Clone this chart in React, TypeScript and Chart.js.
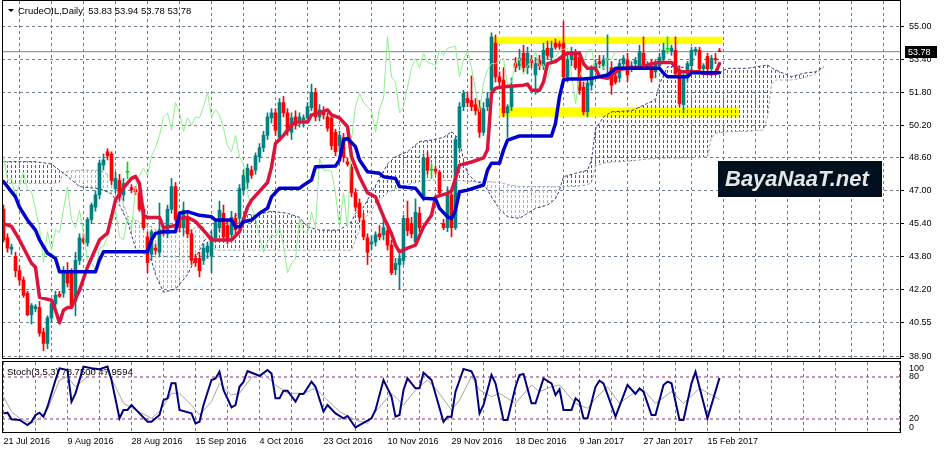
import React, { useEffect, useRef } from 'react';
import { Chart, registerables } from 'chart.js';
Chart.register(...registerables);

const FONT = '"Liberation Sans", Arial, sans-serif';

// ---------- data ----------
const dateLabels = ['21 Jul 2016', '9 Aug 2016', '28 Aug 2016', '15 Sep 2016', '4 Oct 2016', '23 Oct 2016', '10 Nov 2016', '29 Nov 2016', '18 Dec 2016', '9 Jan 2017', '27 Jan 2017', '15 Feb 2017'];
const priceTicks = [38.9, 40.55, 42.2, 43.8, 45.4, 47.0, 48.6, 50.2, 51.8, 53.4, 55.0];
const lastPrice = 53.78;
const titleText = 'CrudeOIL,Daily  53.83 53.94 53.78 53.78';
const stochText = 'Stoch(3,5,3) 78.7500 47.9594';
const watermarkText = 'BayaNaaT.net';
const chikouShift = 26;

// open, high, low, close
const candles: number[][] = [
  [46.1, 46.3, 44.5, 44.6], [44.7, 44.9, 44.0, 44.2], [44.15, 44.4, 43.9, 44.25], [43.8, 44.0, 42.8, 43.1],
  [43.1, 43.35, 42.4, 42.65], [42.65, 42.8, 41.8, 41.9], [42.0, 42.1, 40.9, 40.95], [40.95, 41.5, 40.5, 41.4],
  [41.25, 41.45, 41.1, 41.35], [41.3, 41.6, 39.9, 40.05], [40.1, 40.3, 39.2, 39.55], [39.55, 40.9, 39.3, 40.8],
  [40.8, 41.6, 40.6, 41.5], [41.5, 42.1, 41.3, 41.9], [41.95, 42.1, 41.8, 41.85], [42.0, 43.3, 41.8, 43.1],
  [43.0, 43.5, 42.3, 42.5], [43.0, 43.2, 41.3, 41.4], [41.6, 44.0, 40.9, 43.6], [43.6, 44.9, 43.4, 44.7],
  [44.65, 44.9, 44.4, 44.5], [44.45, 45.7, 44.3, 45.6], [45.6, 46.4, 45.4, 46.3], [46.2, 47.0, 46.0, 46.8],
  [46.8, 48.5, 46.6, 48.35], [48.25, 48.8, 48.0, 48.5], [48.9, 49.05, 48.5, 48.7], [48.8, 48.9, 47.3, 47.5],
  [47.1, 47.9, 46.9, 47.6], [47.5, 47.8, 46.5, 46.7], [46.8, 47.6, 46.5, 47.35], [47.9, 48.4, 47.6, 47.9],
  [47.15, 47.3, 46.9, 47.05], [47.05, 47.2, 46.8, 46.95], [46.9, 47.1, 46.0, 46.1], [46.1, 46.3, 45.1, 45.2],
  [44.75, 45.0, 43.0, 43.5], [43.9, 45.1, 43.6, 45.0], [44.2, 44.4, 43.9, 44.1], [44.0, 46.4, 43.8, 45.1],
  [45.1, 45.3, 44.8, 44.95], [44.9, 46.3, 44.7, 46.1], [46.1, 47.6, 45.9, 47.2], [47.2, 47.4, 45.5, 45.6],
  [45.7, 46.0, 45.0, 45.2], [45.2, 46.45, 44.8, 46.05], [45.7, 46.0, 44.7, 44.9], [44.9, 45.1, 43.4, 43.6],
  [43.7, 43.9, 43.3, 43.5], [43.7, 44.0, 42.8, 43.1], [43.6, 44.4, 43.4, 44.2], [44.0, 44.5, 43.7, 44.3],
  [43.8, 45.0, 43.0, 44.75], [44.7, 45.6, 44.5, 45.45], [45.2, 46.5, 45.0, 46.05], [45.9, 46.3, 44.6, 44.75],
  [45.3, 45.5, 44.4, 44.6], [44.85, 46.0, 44.6, 45.7], [45.65, 45.9, 44.9, 45.1], [45.65, 47.3, 45.4, 47.1],
  [47.05, 48.0, 46.8, 47.75], [47.4, 48.3, 47.1, 48.1], [48.0, 48.2, 47.6, 47.75], [48.0, 48.85, 47.8, 48.7],
  [48.65, 49.3, 48.4, 49.1], [49.1, 49.9, 48.9, 49.7], [49.7, 50.8, 49.5, 50.6], [50.55, 51.0, 50.3, 50.8],
  [50.8, 51.0, 49.7, 49.95], [49.6, 51.5, 49.4, 51.3], [51.3, 51.6, 50.6, 50.8], [50.8, 51.0, 49.7, 49.9],
  [49.85, 50.8, 49.5, 50.55], [50.6, 50.9, 50.0, 50.2], [50.35, 50.8, 50.1, 50.6], [50.45, 50.7, 50.1, 50.55],
  [50.55, 51.3, 50.4, 51.1], [51.05, 52.2, 50.9, 51.8], [51.8, 52.0, 50.4, 50.6], [50.6, 51.2, 50.4, 50.95],
  [50.9, 51.1, 50.5, 50.7], [50.6, 50.8, 49.9, 50.05], [50.55, 50.7, 49.0, 49.2], [49.85, 50.0, 48.7, 48.9],
  [49.2, 49.9, 48.9, 49.7], [49.6, 49.8, 48.4, 48.65], [48.4, 48.6, 48.2, 48.3], [48.15, 48.3, 46.7, 46.9],
  [46.9, 47.1, 46.0, 46.2], [46.4, 46.6, 45.5, 45.7], [45.55, 45.9, 44.6, 44.75], [44.7, 44.9, 43.4, 44.0],
  [44.4, 44.8, 44.1, 44.5], [44.5, 45.0, 44.3, 44.85], [44.9, 45.3, 44.6, 44.75], [44.85, 45.8, 44.6, 45.2],
  [45.05, 45.3, 44.1, 44.35], [44.35, 44.6, 42.9, 43.0], [43.15, 43.7, 42.9, 43.45], [43.4, 43.9, 42.2, 43.7],
  [43.6, 45.8, 43.4, 45.65], [45.65, 46.5, 44.8, 45.05], [45.4, 45.7, 44.7, 44.9], [44.5, 46.6, 44.3, 45.95],
  [45.9, 46.2, 45.0, 45.2], [46.7, 48.8, 46.5, 48.6], [48.6, 48.9, 47.8, 48.0], [48.0, 48.3, 47.6, 48.0],
  [48.05, 48.2, 47.8, 47.95], [47.9, 48.0, 46.7, 46.9], [45.4, 45.6, 45.1, 45.2], [45.2, 47.2, 45.0, 46.9],
  [46.8, 47.0, 44.75, 45.2], [45.2, 49.6, 45.1, 49.5], [49.1, 51.3, 48.9, 51.1], [51.1, 51.9, 50.9, 51.75],
  [51.5, 51.8, 51.1, 51.3], [51.4, 52.6, 50.9, 51.1], [51.2, 51.5, 50.7, 50.9], [51.1, 51.4, 49.6, 49.85],
  [49.85, 51.3, 49.7, 51.0], [51.1, 51.8, 50.9, 51.5], [51.9, 54.7, 51.6, 54.5], [54.2, 54.6, 52.3, 52.55],
  [52.55, 52.8, 52.1, 52.3], [52.4, 53.0, 50.6, 50.8], [50.8, 51.2, 49.6, 51.1], [51.1, 52.5, 50.9, 52.05],
  [53.2, 53.5, 52.8, 53.0], [53.1, 53.9, 52.9, 53.45], [53.7, 54.1, 52.8, 53.0], [53.0, 54.0, 52.7, 53.7],
  [53.35, 53.6, 53.0, 53.25], [52.65, 53.5, 51.7, 53.2], [53.35, 53.6, 52.9, 53.1], [53.1, 54.2, 52.9, 53.85],
  [53.95, 54.3, 53.4, 53.6], [53.5, 54.3, 53.2, 53.95], [54.2, 54.4, 53.9, 54.0], [54.15, 54.3, 53.9, 54.05],
  [54.2, 55.25, 52.4, 52.55], [52.55, 53.6, 52.3, 53.4], [53.4, 54.0, 53.1, 53.8], [53.7, 53.9, 52.9, 53.0],
  [53.5, 53.8, 51.7, 51.9], [52.05, 52.3, 50.7, 50.85], [50.85, 52.4, 50.6, 52.25], [52.15, 53.1, 51.9, 52.9],
  [53.0, 53.4, 52.8, 53.2], [53.3, 53.6, 53.0, 53.2], [53.1, 53.6, 52.9, 53.35], [53.4, 54.6, 52.6, 53.45],
  [53.0, 53.3, 51.7, 52.15], [52.6, 52.8, 52.2, 52.3], [52.5, 53.4, 52.3, 53.2], [53.2, 53.6, 53.0, 53.45],
  [53.35, 53.7, 52.3, 52.65], [53.0, 53.3, 52.8, 53.1], [53.2, 53.5, 53.0, 53.35], [53.1, 54.1, 52.9, 53.77],
  [53.7, 54.5, 52.9, 53.1], [53.05, 53.3, 52.9, 53.15], [53.1, 53.4, 52.3, 52.5], [52.8, 53.4, 52.5, 53.2],
  [53.1, 53.7, 52.9, 53.5], [53.45, 54.2, 53.3, 53.85], [53.9, 54.5, 53.7, 53.9], [53.8, 54.1, 53.6, 53.95],
  [53.85, 54.5, 52.5, 52.7], [52.9, 53.1, 51.1, 51.25], [51.2, 52.7, 50.8, 52.55], [52.55, 53.3, 52.3, 53.2],
  [53.1, 54.0, 52.9, 53.85], [53.8, 54.0, 53.6, 53.9], [53.85, 54.0, 52.7, 52.95], [52.95, 53.2, 52.8, 53.1],
  [53.55, 53.7, 52.7, 52.95], [52.95, 53.6, 52.8, 53.45], [53.45, 53.7, 53.2, 53.4], [53.83, 53.94, 53.78, 53.78],
];

// [bar index, value]
const tenkan: number[][] = [
  [0, 45.4], [2, 45.26], [4, 44.6], [7, 43.46], [8, 43.27], [9, 41.8], [12, 41.66], [13, 41.17], [14, 40.56],
  [15, 41.17], [16, 41.3], [17, 41.3], [19, 42.15], [21, 43.28], [24, 44.6], [26, 44.93], [28, 46.54], [30, 47.14],
  [32, 47.6], [33, 47.7], [34, 47.35], [35, 45.8], [36, 45.7], [39, 45.7], [40, 45.2], [43, 45.3], [44, 45.65],
  [46, 45.7], [48, 45.5], [51, 44.85], [52, 44.6], [57, 44.6], [59, 45.0], [61, 46.2], [62, 46.54], [66, 47.4],
  [67, 48.15], [68, 49.3], [70, 49.7], [72, 50.2], [73, 50.35], [76, 50.35], [77, 50.7], [79, 50.8], [81, 50.94],
  [82, 50.7], [84, 50.55], [86, 50.12], [87, 48.66], [89, 47.68], [91, 46.9], [93, 46.7], [95, 45.73], [97, 44.9],
  [98, 44.35], [99, 44.02], [101, 44.2], [103, 44.35], [105, 45.24], [107, 45.8], [108, 46.7], [111, 46.87],
  [112, 47.0], [113, 47.6], [114, 48.25], [117, 48.4], [120, 48.6], [121, 49.0], [122, 51.75], [123, 52.0],
  [125, 52.07], [130, 52.15], [131, 52.2], [132, 51.9], [134, 51.9], [135, 52.3], [136, 53.2], [138, 53.3],
  [140, 53.6], [141, 53.7], [144, 53.7], [145, 53.2], [146, 52.97], [148, 52.97], [149, 52.56], [151, 52.48],
  [152, 52.64], [154, 52.92], [160, 53.05], [162, 53.2], [164, 53.26], [167, 53.26], [169, 52.8], [174, 52.8],
  [175, 52.73], [178, 52.73], [179, 53.2],
];

const kijun: number[][] = [
  [0, 47.44], [1, 47.2], [3, 46.7], [4, 46.2], [6, 45.57], [8, 45.08], [9, 44.6], [11, 43.95], [13, 43.7],
  [14, 43.05], [23, 43.05], [24, 43.62], [25, 44.02], [36, 44.02], [37, 44.6], [38, 44.92], [40, 45.0], [43, 45.0],
  [44, 45.9], [46, 45.98], [49, 45.8], [52, 45.73], [53, 45.57], [57, 45.57], [58, 45.24], [59, 45.24], [60, 45.49],
  [62, 45.57], [64, 45.9], [66, 46.14], [67, 46.7], [69, 47.12], [74, 47.12], [75, 47.27], [77, 47.52], [78, 48.17],
  [83, 48.2], [84, 48.5], [85, 49.47], [86, 49.55], [88, 49.15], [89, 48.5], [91, 47.93], [94, 47.85], [95, 47.68],
  [98, 47.6], [99, 47.2], [103, 47.12], [105, 46.63], [108, 46.6], [109, 46.14], [111, 45.73], [112, 45.65],
  [113, 46.06], [114, 46.95], [116, 47.03], [120, 47.28], [121, 48.0], [122, 48.34], [124, 48.34], [125, 48.98],
  [126, 49.47], [129, 49.67], [137, 49.67], [138, 50.29], [139, 51.59], [140, 52.4], [141, 52.45], [145, 52.45],
  [147, 52.48], [151, 52.64], [152, 52.8], [153, 52.97], [164, 52.97], [165, 52.73], [166, 52.56], [171, 52.56],
  [172, 52.76], [179, 52.76],
];

const cloudIdx = [0, 8, 12, 14, 15, 16, 19, 24, 27, 29, 31, 33, 35, 37, 38, 40, 43, 46, 48, 50, 52, 53, 59, 63, 67, 71, 74, 76, 79, 84, 87, 88, 90, 92, 94, 96, 98, 101, 104, 107, 110, 112, 114, 115, 116, 118, 120, 122, 124, 126, 129, 131, 133, 136, 138, 139, 140, 143, 146, 147, 148, 150, 152, 157, 161, 163, 164, 166, 169, 173, 176, 177, 178, 181, 186, 190, 191, 192, 193, 197, 200, 203, 205];
const senkouA = [48.42, 48.42, 48.3, 48.0, 47.85, 47.7, 47.2, 47.1, 46.85, 46.3, 45.5, 44.2, 43.95, 43.6, 42.9, 42.05, 42.2, 42.9, 43.7, 44.5, 45.05, 45.1, 45.9, 45.8, 46.0, 45.9, 45.7, 45.24, 45.08, 45.08, 45.49, 45.9, 46.2, 46.9, 47.6, 48.3, 48.66, 48.9, 49.4, 49.47, 49.6, 49.88, 49.5, 48.5, 47.85, 47.44, 47.36, 46.7, 46.1, 45.73, 45.65, 45.9, 46.14, 46.3, 46.6, 47.03, 47.68, 47.85, 48.0, 48.5, 50.0, 50.6, 50.85, 50.9, 51.26, 51.45, 52.2, 53.05, 53.05, 52.85, 52.64, 52.64, 52.64, 52.97, 52.97, 53.1, 53.13, 53.0, 52.89, 52.56, 52.73, 52.8, 53.05];
const senkouB = [47.36, 47.36, 47.36, 47.4, 47.93, 47.95, 48.0, 48.0, 47.68, 46.95, 45.75, 45.6, 45.3, 45.25, 45.1, 45.0, 45.0, 45.0, 45.2, 45.25, 44.5, 44.1, 44.1, 44.1, 44.1, 44.1, 44.1, 44.1, 44.1, 44.1, 44.1, 44.6, 45.57, 46.06, 46.54, 46.9, 47.1, 47.3, 47.44, 47.52, 47.5, 47.5, 47.5, 47.48, 47.45, 47.44, 47.44, 47.44, 47.4, 47.3, 47.2, 47.2, 47.2, 47.2, 47.2, 47.2, 47.2, 47.2, 47.3, 47.4, 48.2, 48.34, 48.4, 48.45, 48.55, 48.58, 48.58, 48.6, 48.6, 48.62, 48.66, 49.6, 49.8, 49.88, 49.9, 49.96, 50.6, 52.2, 52.4, 52.4, 52.5, 52.7, 53.0];

const stochMain: number[][] = [
  [0, 28], [1, 29], [2, 19.5], [4, 18.6], [6, 11.4], [7, 16], [8, 25.7], [9, 29], [10, 23.3], [11, 37.6], [13, 75.7],
  [14, 92.4], [16, 90], [17, 44.7], [18, 56.7], [20, 94.8], [22, 92.4], [24, 91], [26, 94.8], [27, 75.7], [29, 21],
  [30, 32.9], [31, 32.9], [32, 40], [34, 28], [36, 16], [37, 16], [39, 25.7], [40, 47], [41, 49.5], [42, 71], [43, 71],
  [44, 32.9], [47, 28], [48, 13.8], [49, 16], [50, 40], [52, 75.7], [53, 78], [54, 87.6], [55, 61.4], [57, 36.7],
  [58, 40], [59, 66], [60, 73], [61, 88.6], [63, 84], [64, 81.4], [66, 90], [67, 85], [68, 49.5], [69, 49.5],
  [70, 60.5], [71, 60.5], [73, 44.7], [74, 55.7], [75, 55.7], [77, 73.3], [78, 66], [80, 30.5], [81, 40], [83, 28],
  [85, 21], [86, 24.3], [88, 8.1], [89, 11.4], [92, 21], [93, 32.9], [95, 75.7], [97, 51.9], [98, 23.3], [99, 25.7],
  [100, 61.4], [101, 78], [103, 63.8], [104, 63.8], [105, 86.2], [107, 75.7], [110, 16], [111, 23.3], [112, 23.3],
  [113, 59], [115, 91.4], [117, 88], [118, 75.7], [119, 28], [120, 40], [122, 82.9], [123, 71], [125, 18.6],
  [126, 18.6], [128, 66], [129, 82.9], [130, 84.3], [132, 42.4], [133, 42.4], [135, 78], [137, 71], [138, 54.3],
  [139, 62.4], [140, 32.9], [142, 32.9], [143, 49.5], [144, 44.7], [145, 21], [146, 21], [148, 66], [149, 74.7],
  [150, 71], [153, 23.3], [156, 68.6], [158, 55.7], [159, 63.8], [160, 59], [162, 25.7], [163, 25.7], [165, 68.6],
  [166, 73.3], [167, 71], [169, 18.6], [170, 18.6], [172, 71], [173, 87.6], [176, 21], [179, 78.75],
];
const stochSignal: number[][] = [
  [0, 51.9], [2, 30.5], [4, 21], [7, 13.8], [9, 21], [11, 33], [14, 75.7], [16, 80.4], [18, 66], [21, 80.4],
  [23, 91], [26, 87.6], [28, 66], [30, 42.4], [33, 33], [37, 21], [39, 30.5], [42, 56.7], [44, 56.7], [47, 40],
  [49, 25.7], [52, 44.7], [54, 71], [57, 54.3], [59, 56.7], [62, 79.5], [65, 85.3], [68, 68.6], [71, 56.7],
  [75, 56.7], [78, 63.8], [81, 47], [84, 30.5], [88, 18.6], [91, 13.8], [93, 30.5], [97, 56.7], [100, 40],
  [103, 61.4], [106, 75.7], [108, 63.8], [112, 32.9], [114, 47], [117, 80.4], [119, 61.4], [122, 51.9], [124, 56.7],
  [128, 42.4], [132, 68.6], [134, 59], [137, 66], [139, 68.6], [143, 42.4], [146, 35.2], [148, 49.5], [151, 66],
  [154, 42.4], [158, 59], [160, 61.4], [163, 42.4], [167, 59], [170, 42.4], [174, 63.8], [177, 54.3], [179, 47.96],
];
const stochLevels = [20, 80];

// highlighted zones (yellow): start bar, end bar, low, high
const zoneStart = [122.2, 123.9];
const zoneEnd = [179.8, 183.9];
const zoneLow = [54.16, 50.61];
const zoneHigh = [54.51, 51.07];

// ---------- styling ----------
const TEAL = '#008080';
const RED = '#ff0000';
const LIME = '#00e000';
const GRID = '#6f7d8c';
const X_MIN = -0.375;
const X_MAX = 224.125;
const Y_MAX = 56.2535;
const Y_MIN = 38.8415;
const xTickValues: number[] = [];
for (let v = 0; v <= 224; v += 8) xTickValues.push(v);

function makePattern(color: string) {
  const c = document.createElement('canvas');
  c.width = 4;
  c.height = 5;
  const g = c.getContext('2d')!;
  g.fillStyle = color;
  g.fillRect(3, 0, 1, 3);
  return g.createPattern(c, 'repeat') as CanvasPattern;
}

const pts = (arr: number[][]) => arr.map((p) => ({ x: p[0], y: p[1] }));
const noPad = (ax: any) => {
  ax.paddingTop = 0;
  ax.paddingBottom = 0;
  ax.paddingLeft = 0;
  ax.paddingRight = 0;
};

export default function App() {
  const mainRef = useRef<HTMLCanvasElement>(null);
  const stochRef = useRef<HTMLCanvasElement>(null);

  useEffect(() => {
    document.body.style.margin = '0';
    document.body.style.background = '#ffffff';
    const navyPat = makePattern('#5a5a98');
    const grayPat = makePattern('#b4b4b4');
    const colorOf = (c: number[]) => (c[3] > c[0] ? TEAL : c[3] < c[0] ? RED : LIME);

    const datasets: any[] = [];
    zoneStart.forEach((s, k) => {
      datasets.push({
        type: 'line', data: [{ x: s, y: zoneLow[k] }, { x: zoneEnd[k], y: zoneLow[k] }],
        borderWidth: 0, pointRadius: 0, fill: false, order: 101,
      });
      datasets.push({
        type: 'line', data: [{ x: s, y: zoneHigh[k] }, { x: zoneEnd[k], y: zoneHigh[k] }],
        borderWidth: 0, pointRadius: 0, fill: '-1', backgroundColor: '#ffff00', order: 100,
      });
    });
    datasets.push({
      type: 'line', data: [{ x: X_MIN, y: lastPrice }, { x: X_MAX, y: lastPrice }],
      borderColor: '#77838f', borderWidth: 1, pointRadius: 0, fill: false, order: 95,
    });
    const bIndex = datasets.length;
    datasets.push({
      type: 'line', data: cloudIdx.map((x, k) => ({ x, y: senkouB[k] })),
      borderColor: '#a8a8a8', borderWidth: 1, borderDash: [3, 2], pointRadius: 0, fill: false, order: 91,
    });
    datasets.push({
      type: 'line', data: cloudIdx.map((x, k) => ({ x, y: senkouA[k] })),
      borderColor: '#3a3a80', borderWidth: 1, borderDash: [3, 2], pointRadius: 0,
      fill: { target: bIndex, above: navyPat, below: grayPat }, order: 90,
    });
    datasets.push({
      type: 'bar', data: candles.map((c, i) => ({ x: i, y: [c[2], c[1]] })),
      backgroundColor: candles.map(colorOf), barThickness: 1, grouped: false, minBarLength: 1,
      borderWidth: 0, order: 50,
    });
    datasets.push({
      type: 'bar', data: candles.map((c, i) => ({ x: i, y: [c[0], c[3]] })),
      backgroundColor: candles.map(colorOf), barThickness: 3, grouped: false, minBarLength: 1,
      borderWidth: 0, order: 49,
    });
    datasets.push({
      type: 'line', data: candles.map((c, i) => ({ x: i - chikouShift, y: c[3] })),
      borderColor: '#90ee90', borderWidth: 1, pointRadius: 0, fill: false, order: 40,
    });
    datasets.push({
      type: 'line', data: pts(tenkan), borderColor: '#dc143c', borderWidth: 3.5, pointRadius: 0,
      fill: false, order: 30, borderJoinStyle: 'round', borderCapStyle: 'round',
    });
    datasets.push({
      type: 'line', data: pts(kijun), borderColor: '#0000cd', borderWidth: 3.5, pointRadius: 0,
      fill: false, order: 20, borderJoinStyle: 'round', borderCapStyle: 'round',
    });

    const mainDecor = {
      id: 'mainDecor',
      afterDatasetsDraw(chart: any) {
        const { ctx } = chart;
        ctx.save();
        ctx.fillStyle = '#00101f';
        ctx.fillRect(718, 161, 164, 36);
        ctx.fillStyle = '#e6e6e6';
        ctx.font = `italic bold 22px ${FONT}`;
        ctx.textBaseline = 'middle';
        ctx.fillText(watermarkText, 725, 180);
        ctx.restore();
      },
      afterDraw(chart: any) {
        const { ctx, chartArea: a, scales } = chart;
        ctx.save();
        ctx.strokeStyle = '#000';
        ctx.lineWidth = 1;
        ctx.strokeRect(a.left + 0.5, a.top - 0.5, a.right - a.left, a.bottom - a.top + 1);
        const py = Math.round(scales.y.getPixelForValue(lastPrice));
        ctx.fillStyle = '#000';
        ctx.fillRect(905, py - 6, 32, 12);
        ctx.fillStyle = '#fff';
        ctx.font = `9px ${FONT}`;
        ctx.textBaseline = 'middle';
        ctx.fillText(lastPrice.toFixed(2), 908, py + 0.5);
        ctx.fillStyle = '#000';
        ctx.beginPath();
        ctx.moveTo(8, 9);
        ctx.lineTo(14, 9);
        ctx.lineTo(11, 12);
        ctx.closePath();
        ctx.fill();
        ctx.font = `9.5px ${FONT}`;
        ctx.fillText(titleText, 18, 11);
        ctx.restore();
      },
    };

    const main = new Chart(mainRef.current!, {
      type: 'bar',
      data: { datasets },
      options: {
        responsive: false,
        animation: false,
        events: [],
        layout: { padding: { left: 2, top: 1, right: 0, bottom: 2 } },
        plugins: { legend: { display: false }, tooltip: { enabled: false } },
        scales: {
          x: {
            type: 'linear', min: X_MIN, max: X_MAX, offset: false,
            afterBuildTicks: (ax: any) => { ax.ticks = xTickValues.map((v) => ({ value: v })); },
            afterFit: (ax: any) => { ax.height = 0; noPad(ax); },
            ticks: { display: false },
            grid: { color: GRID, drawTicks: false },
            border: { display: false, dash: [3, 3] },
          },
          y: {
            type: 'linear', position: 'right', min: Y_MIN, max: Y_MAX,
            afterBuildTicks: (ax: any) => { ax.ticks = priceTicks.map((v) => ({ value: v })); },
            afterFit: (ax: any) => { ax.width = 45; noPad(ax); },
            ticks: {
              callback: (v: any) => Number(v).toFixed(2), color: '#000', padding: 5, autoSkip: false,
              font: { family: FONT, size: 9 },
            },
            grid: { color: GRID, drawTicks: true, tickLength: 4, tickColor: '#000', tickBorderDash: [] },
            border: { display: false, dash: [3, 3] },
          },
        },
      } as any,
      plugins: [mainDecor],
    });

    const stochDecor = {
      id: 'stochDecor',
      afterDraw(chart: any) {
        const { ctx, chartArea: a, scales } = chart;
        ctx.save();
        ctx.strokeStyle = '#000';
        ctx.lineWidth = 1;
        ctx.strokeRect(a.left + 0.5, a.top - 0.5, a.right - a.left, a.bottom - a.top);
        ctx.fillStyle = '#000';
        ctx.font = `9px ${FONT}`;
        ctx.textBaseline = 'middle';
        const y = scales.y;
        ctx.fillText('100', 909, y.getPixelForValue(100) + 6);
        ctx.fillText('80', 909, y.getPixelForValue(80));
        ctx.fillText('20', 909, y.getPixelForValue(20));
        ctx.fillText('0', 909, y.getPixelForValue(0) - 5);
        ctx.font = `9.5px ${FONT}`;
        ctx.fillText(stochText, 7, 12);
        ctx.restore();
      },
    };

    const stochDatasets: any[] = stochLevels.map((lv) => ({
      type: 'line', data: [{ x: X_MIN, y: lv }, { x: X_MAX, y: lv }], borderColor: '#9a2a7a',
      borderWidth: 1, borderDash: [3, 3], pointRadius: 0, fill: false, order: 10,
    }));
    stochDatasets.push({
      type: 'line', data: pts(stochSignal), borderColor: '#a4a4a4', borderWidth: 1, pointRadius: 0, fill: false, order: 5,
    });
    stochDatasets.push({
      type: 'line', data: pts(stochMain), borderColor: '#000080', borderWidth: 2, pointRadius: 0, fill: false, order: 1,
    });

    const stoch = new Chart(stochRef.current!, {
      type: 'line',
      data: { datasets: stochDatasets },
      options: {
        responsive: false,
        animation: false,
        events: [],
        layout: { padding: { left: 2, top: 2, right: 0, bottom: 0 } },
        plugins: { legend: { display: false }, tooltip: { enabled: false } },
        scales: {
          x: {
            type: 'linear', min: X_MIN, max: X_MAX, offset: false,
            afterBuildTicks: (ax: any) => { ax.ticks = xTickValues.map((v) => ({ value: v })); },
            afterFit: (ax: any) => { ax.height = 21; noPad(ax); },
            ticks: {
              callback: (v: any) => (v % 16 === 0 && dateLabels[v / 16] ? dateLabels[v / 16] : ''),
              align: 'start', color: '#000', padding: 3, autoSkip: false, maxRotation: 0, minRotation: 0,
              font: { family: FONT, size: 9 },
            },
            grid: { color: GRID, drawTicks: false },
            border: { display: false, dash: [3, 3] },
          },
          y: {
            type: 'linear', position: 'right', min: 0, max: 101.43,
            afterFit: (ax: any) => { ax.width = 45; noPad(ax); },
            ticks: { display: false },
            grid: { display: false },
            border: { display: false },
          },
        },
      } as any,
      plugins: [stochDecor],
    });

    return () => {
      main.destroy();
      stoch.destroy();
    };
  }, []);

  return (
    <div style={{ width: 945, height: 454, background: '#fff' }}>
      <canvas ref={mainRef} width={945} height={360} style={{ display: 'block', width: 945, height: 360 }} />
      <canvas ref={stochRef} width={945} height={94} style={{ display: 'block', width: 945, height: 94 }} />
    </div>
  );
}
